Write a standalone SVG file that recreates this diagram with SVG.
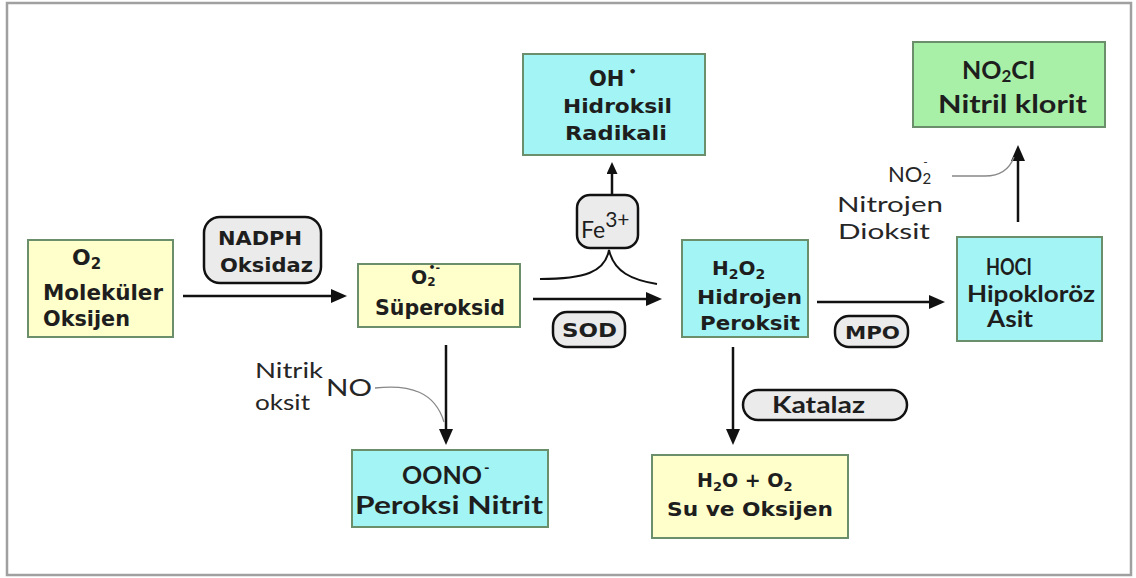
<svg xmlns="http://www.w3.org/2000/svg" width="1136" height="578" viewBox="0 0 1136 578">
<style>
.frame{fill:#fff;stroke:#a0a0a0;stroke-width:2.5}
.box{stroke:#6b8f6b;stroke-width:2}
.y{fill:#ffffcc}
.c{fill:#a3f5f5}
.gr{fill:#a8f0a8}
.pill{fill:#ebebeb;stroke:#111;stroke-width:2.5}
.b{font-family:"DejaVu Sans",Verdana,sans-serif;font-weight:bold;fill:#1e1e1e}
.g{font-family:Lato,"Open Sans",sans-serif;font-weight:bold;fill:#1e1e1e}
.r{font-family:Lato,"Open Sans",sans-serif;font-weight:normal;fill:#262626}
.ln{fill:none;stroke:#111;stroke-width:2.5}
.thin{fill:none;stroke:#888;stroke-width:1.3}
</style>
<defs>
<marker id="ah" viewBox="0 0 16 14" refX="4" refY="7" markerWidth="16" markerHeight="14" markerUnits="userSpaceOnUse" orient="auto">
<path d="M0,0 L16,7 L0,14 Z" fill="#111"/>
</marker>
<marker id="ahs" viewBox="0 0 12 11" refX="3" refY="5.5" markerWidth="12" markerHeight="11" markerUnits="userSpaceOnUse" orient="auto">
<path d="M0,0 L12,5.5 L0,11 Z" fill="#111"/>
</marker>
</defs>
<rect class="frame" x="7" y="3" width="1124" height="572"/>

<g id="connectors">
<path class="ln" d="M183,296 L335,296" marker-end="url(#ah)"/>
<path class="ln" d="M533,299 L650,299" marker-end="url(#ah)"/>
<path class="ln" d="M817,302 L933,302" marker-end="url(#ah)"/>
<path class="ln" d="M1018,222 L1018,157" marker-end="url(#ah)"/>
<path class="ln" d="M612,196 L612,171" marker-end="url(#ahs)"/>
<path class="ln" d="M446,345 L446,433" marker-end="url(#ah)"/>
<path class="ln" d="M733,347 L733,433" marker-end="url(#ah)"/>
<path class="ln" style="stroke-width:2" d="M540,279 C585,279 605,272 609,250 C614,272 632,280 657,284"/>
<path class="thin" d="M375,388 C410,384 435,392 444,422"/>
<path class="thin" d="M952,176 L985,176 C1002,176 1010,168 1014,157"/>
</g>

<g id="o2">
<rect class="box y" x="28" y="240" width="145" height="97"/>
<text class="b" x="72" y="265" font-size="22">O<tspan font-size="15" dy="4">2</tspan></text>
<text class="b" x="43" y="300" font-size="21" textLength="120" lengthAdjust="spacingAndGlyphs">Moleküler</text>
<text class="b" x="43" y="326" font-size="21" textLength="87" lengthAdjust="spacingAndGlyphs">Oksijen</text>
</g>

<g id="nadph">
<rect class="pill" x="204" y="217" width="117" height="66" rx="16"/>
<text class="b" x="218" y="245" font-size="20" textLength="84" lengthAdjust="spacingAndGlyphs">NADPH</text>
<text class="b" x="220" y="272" font-size="20" textLength="93" lengthAdjust="spacingAndGlyphs">Oksidaz</text>
</g>

<g id="superoksid">
<rect class="box y" x="358" y="264" width="162" height="63"/>
<text class="b" x="411" y="284" font-size="19">O<tspan font-size="12" dy="2">2</tspan><tspan font-size="11" dx="-7" dy="-15">•-</tspan></text>
<text class="b" x="375" y="315" font-size="21" textLength="130" lengthAdjust="spacingAndGlyphs">Süperoksid</text>
</g>

<g id="sod">
<rect class="pill" x="553" y="312" width="72" height="35" rx="14"/>
<text class="b" x="562" y="337" font-size="19" textLength="55" lengthAdjust="spacingAndGlyphs">SOD</text>
</g>

<g id="fe">
<rect class="pill" x="577" y="195" width="61" height="53" rx="13"/>
<text class="r" x="581" y="238" font-size="23" style="fill:#1e1e1e">Fe<tspan font-size="21" dy="-11">3+</tspan></text>
</g>

<g id="oh">
<rect class="box c" x="523" y="54" width="182" height="101"/>
<text class="b" x="589" y="86" font-size="21">OH<tspan font-size="13" dx="4" dy="-10">•</tspan></text>
<text class="b" x="563" y="113" font-size="19" textLength="109" lengthAdjust="spacingAndGlyphs">Hidroksil</text>
<text class="b" x="565" y="140" font-size="19" textLength="102" lengthAdjust="spacingAndGlyphs">Radikali</text>
</g>

<g id="h2o2">
<rect class="box c" x="682" y="240" width="126" height="97"/>
<text class="b" x="712" y="275" font-size="20">H<tspan font-size="14" dy="4">2</tspan><tspan dy="-4">O</tspan><tspan font-size="14" dy="4">2</tspan></text>
<text class="b" x="697" y="304" font-size="20" textLength="105" lengthAdjust="spacingAndGlyphs">Hidrojen</text>
<text class="b" x="700" y="330" font-size="20" textLength="100" lengthAdjust="spacingAndGlyphs">Peroksit</text>
</g>

<g id="mpo">
<rect class="pill" x="835" y="316" width="73" height="31" rx="14"/>
<text class="b" x="845" y="339" font-size="18" textLength="55" lengthAdjust="spacingAndGlyphs">MPO</text>
</g>

<g id="hocl">
<rect class="box c" x="957" y="237" width="145" height="104"/>
<text class="g" x="986" y="275" font-size="22" textLength="46" lengthAdjust="spacingAndGlyphs">HOCI</text>
<text class="g" x="967" y="302" font-size="22" textLength="128" lengthAdjust="spacingAndGlyphs">Hipokloröz</text>
<text class="g" x="987" y="327" font-size="22" textLength="46" lengthAdjust="spacingAndGlyphs">Asit</text>
</g>

<g id="no2cl">
<rect class="box gr" x="913" y="42" width="192" height="85"/>
<text class="g" x="962" y="79" font-size="25">NO<tspan font-size="17" dy="3">2</tspan><tspan dy="-3">CI</tspan></text>
<text class="g" x="938" y="113" font-size="25" textLength="149" lengthAdjust="spacingAndGlyphs">Nitril klorit</text>
</g>

<g id="no2label">
<text class="r" x="888" y="182" font-size="22">NO<tspan font-size="15" dy="2">2</tspan><tspan font-size="12" dx="-8" dy="-18">-</tspan></text>
<text class="r" x="837" y="212" font-size="22" textLength="106" lengthAdjust="spacingAndGlyphs">Nitrojen</text>
<text class="r" x="838" y="239" font-size="22" textLength="92" lengthAdjust="spacingAndGlyphs">Dioksit</text>
</g>

<g id="nolabel">
<text class="r" x="255" y="378" font-size="21" textLength="68" lengthAdjust="spacingAndGlyphs">Nitrik</text>
<text class="r" x="255" y="410" font-size="21" textLength="55" lengthAdjust="spacingAndGlyphs">oksit</text>
<text class="r" x="326" y="396" font-size="23" textLength="46" lengthAdjust="spacingAndGlyphs">NO</text>
</g>

<g id="oono">
<rect class="box c" x="352" y="450" width="196" height="77"/>
<text class="g" x="402" y="484" font-size="25">OONO<tspan font-size="15" dx="2" dy="-11">-</tspan></text>
<text class="g" x="355" y="514" font-size="25" textLength="188" lengthAdjust="spacingAndGlyphs">Peroksi Nitrit</text>
</g>

<g id="katalaz">
<rect class="pill" x="743" y="390" width="164" height="30" rx="15"/>
<text class="g" x="772" y="413" font-size="22" textLength="93" lengthAdjust="spacingAndGlyphs">Katalaz</text>
</g>

<g id="h2o">
<rect class="box y" x="652" y="455" width="196" height="83"/>
<text class="b" x="697" y="487" font-size="19">H<tspan font-size="13" dy="4">2</tspan><tspan dy="-4">O + O</tspan><tspan font-size="13" dy="4">2</tspan></text>
<text class="b" x="667" y="516" font-size="20" textLength="166" lengthAdjust="spacingAndGlyphs">Su ve Oksijen</text>
</g>
</svg>
